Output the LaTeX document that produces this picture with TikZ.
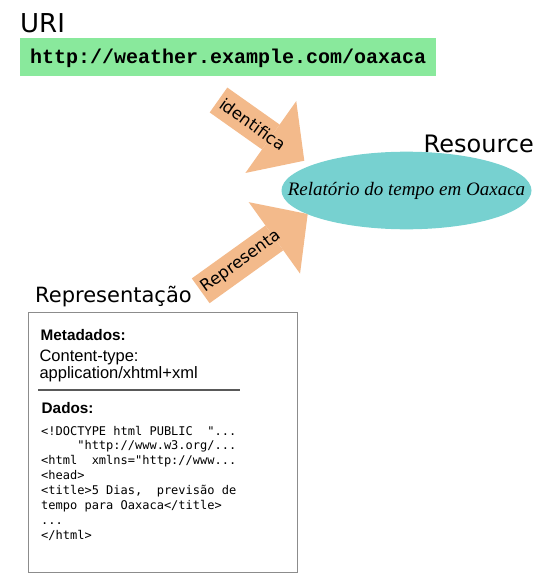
\documentclass[tikz,border=0pt]{standalone}
\usepackage{fontspec}
\setmainfont{DejaVu Sans}
\newfontfamily\sansfont{Liberation Sans}
\newfontfamily\codefont{DejaVu Sans Mono}
\newfontfamily\urlfont{Liberation Mono}
\newfontfamily\serifit{Liberation Serif}
\usepackage{xcolor}
\definecolor{urigreen}{HTML}{89E99C}
\definecolor{resteal}{HTML}{77D1D0}
\definecolor{arroworange}{HTML}{F3BA8B}
\definecolor{boxgray}{HTML}{8C8C8C}
\usetikzlibrary{shapes.geometric,arrows.meta,positioning}

\begin{document}
\begin{tikzpicture}[
  x=1pt, y=-1pt,
  title/.style={anchor=base west, inner sep=0pt},
  urlbox/.style={fill=urigreen, minimum width=416pt, minimum height=38pt, inner sep=0pt, text height=14pt, text depth=1pt, font=\urlfont\bfseries\fontsize{20}{22}\selectfont},
  resource/.style={ellipse, fill=resteal, minimum width=250pt, minimum height=77.6pt, inner sep=0pt},
  bigarrow/.style={line width=30.5pt, color=arroworange, -{Triangle[length=41pt, width=88pt, line width=0pt]}},
  arrowlabel/.style={font=\fontsize{16.5}{19}\selectfont, sloped, inner sep=0pt, text=black},
  repbox/.style={draw=boxgray, line width=1pt, minimum width=269.5pt, minimum height=260pt, inner sep=0pt},
  boxtext/.style={anchor=base west, inner sep=0pt, align=left},
  sepline/.style={draw=black!65, line width=1.2pt}
]
\useasboundingbox (0,0) rectangle (540,586);

% URI
\node[title, font=\fontsize{26}{30}\selectfont] (urititle) at (20,33) {URI};
\node[urlbox, anchor=north west] (uri) at (20,38) {http://weather.example.com/oaxaca};

% Resource
\node[resource] (res) at (406.5,190.5) {};
\node[inner sep=0pt, font=\serifit\itshape\fontsize{19}{22}\selectfont] (restext) at (res.center) {Relatório do tempo em Oaxaca};
\node[title, anchor=base east, font=\fontsize{24}{28}\selectfont] (restitle) at (534,152) {Resource};

% big arrows
\coordinate (idtail) at (218.5,100);
\coordinate (idtip) at (304.3,160.7);
\coordinate (reptail) at (200.7,290.8);
\coordinate (reptip) at (307.7,214);
\draw[bigarrow] (idtail) -- node[arrowlabel, pos=0.4] (idlabel) {identifica} (idtip);
\draw[bigarrow] (reptail) -- node[arrowlabel, pos=0.38] (replabel) {Representa} (reptip);

% Representacao (multi-line nodes: base = last line)
\node[title, font=\fontsize{21}{25}\selectfont] (reptitle) at (35,302) {Representação};
\node[repbox, anchor=north west] (rep) at (27.5,311.5) {};
\node[boxtext, font=\sansfont\bfseries\fontsize{15.3}{18}\selectfont] (metatitle) at (40.5,340) {Metadados:};
\node[boxtext, font=\sansfont\fontsize{16.5}{16.6}\selectfont] (meta) at (39.3,378.3) {Content-type:\\application/xhtml+xml};
\draw[sepline] (38.3,390) -- (240,390);
\node[boxtext, font=\sansfont\bfseries\fontsize{15.3}{18}\selectfont] (datatitle) at (41.5,413.3) {Dados:};
\node[boxtext, font=\codefont\fontsize{12}{14.9}\selectfont] (data) at (41,539.3) {%
<!DOCTYPE html PUBLIC~~"...\\
\phantom{xxxxx}"http://www.w3.org/...\\
<html~~xmlns="http://www...\\
<head>\\
<title>5 Dias,~~previsão de\\
tempo para Oaxaca</title>\\
...\\
</html>};
\end{tikzpicture}
\end{document}
